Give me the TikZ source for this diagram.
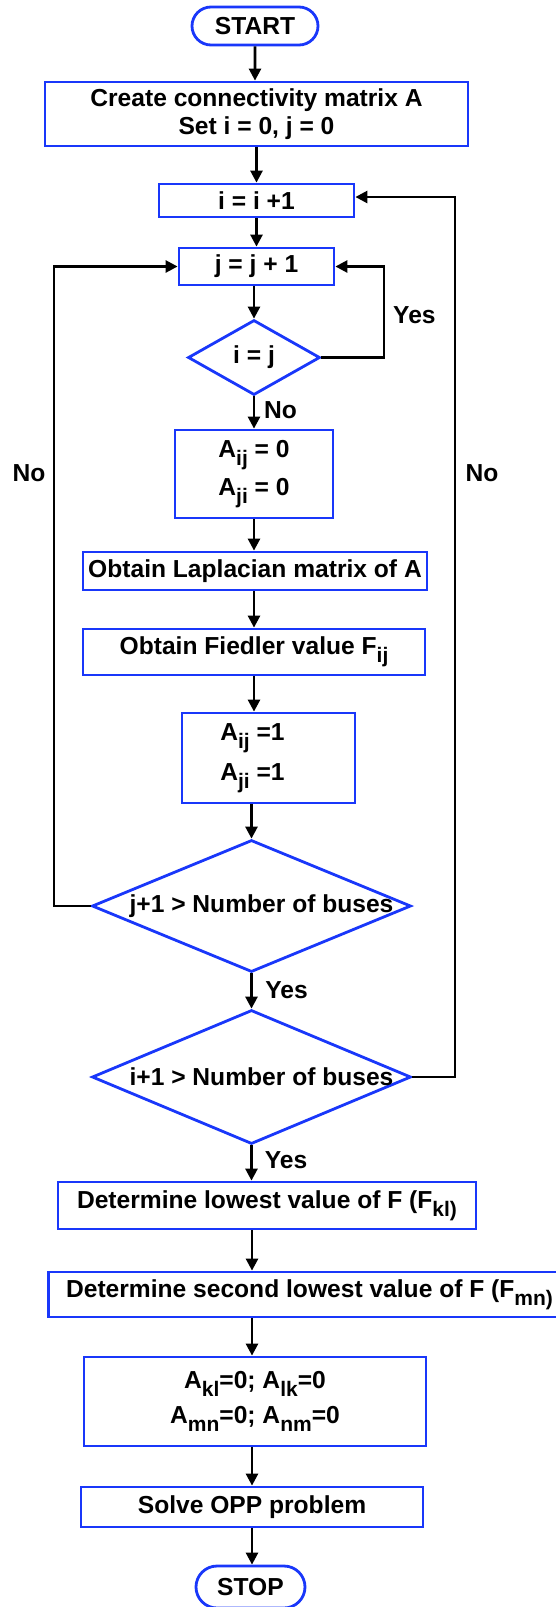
\documentclass[tikz,border=0pt]{standalone}
\usepackage{fontspec}
\setmainfont{Liberation Sans}
\usetikzlibrary{positioning,shapes.geometric,shapes.misc,arrows.meta}
\definecolor{boxblue}{RGB}{25,55,250}
\newcommand{\sbs}[1]{\raisebox{-8pt}{\fontsize{21}{21}\selectfont #1}}

\begin{document}
\begin{tikzpicture}[x=1pt,y=-1pt,
  every node/.style={font=\fontsize{24.6}{28}\selectfont\bfseries},
  process/.style={draw=boxblue,line width=2.8pt,rectangle,inner sep=0pt,align=center},
  terminal/.style={draw=boxblue,line width=2.8pt,rounded rectangle,inner sep=0pt},
  decision/.style={draw=boxblue,line width=2.8pt,diamond,inner sep=0pt},
  arr/.style={line width=2.6pt,-{Triangle[length=12pt,width=12pt]}},
  lbl/.style={inner sep=0pt}]
      \useasboundingbox (0,0) rectangle (555,1607);
      % main column
      \node[terminal,minimum width=126pt,minimum height=38pt](start) at (255,26){START};
      \node[process,minimum width=423pt,minimum height=64pt](create) at (256.5,114){Create connectivity matrix A\\Set i = 0, j = 0};
      \node[process,minimum width=195pt,minimum height=33pt](inci) at (256.5,200.5){i = i +1};
      \node[process,minimum width=155pt,minimum height=37pt](incj) at (256.5,266.5){j = j + 1};
      \node[decision,minimum width=132pt,minimum height=75pt](same) at (254,357.5){i = j};
      \node[process,minimum width=158pt,minimum height=88pt](zero) at (254,474){A\sbs{ij} = 0\\[8pt]A\sbs{ji} = 0};
      \node[process,minimum width=344pt,minimum height=38pt](lap) at (255,571){Obtain Laplacian matrix of A};
      \node[process,minimum width=342pt,minimum height=46pt](fied) at (254,652){Obtain Fiedler value F\sbs{ij}};
      \node[process,minimum width=173pt,minimum height=90pt,
        label={[xshift=-16pt,align=center]center:A\sbs{ij} =1\\[10pt]A\sbs{ji} =1}](one) at (268.5,758){};
      \node[decision,minimum width=319pt,minimum height=132pt,
        label={[xshift=10pt]center:j+1 > Number of buses}](lastj) at (251.5,906){};
      \node[decision,minimum width=319pt,minimum height=134pt,
        label={[xshift=10pt]center:i+1 > Number of buses}](lasti) at (251.5,1077){};
      \node[process,minimum width=418pt,minimum height=47pt](low) at (267,1205.5){Determine lowest value of F (F\sbs{kl)}};
      \node[process,minimum width=522pt,minimum height=45pt](second) at (309.5,1294.5){Determine second lowest value of F (F\sbs{mn)}};
      \node[process,minimum width=342pt,minimum height=89pt](cut) at (255,1401.5){A\sbs{kl}=0; A\sbs{lk}=0\\[7pt]A\sbs{mn}=0; A\sbs{nm}=0};
      \node[process,minimum width=342pt,minimum height=40pt](opp) at (252,1507){Solve OPP problem};
      \node[terminal,minimum width=109pt,minimum height=42pt](stop) at (250.5,1587){STOP};

      % loop corners
      \coordinate (yesx) at (384,310);
      \coordinate (leftx) at (54,600);
      \coordinate (rightx) at (455,600);

      \draw[arr] (start) -- (start |- create.north);
      \draw[arr] (create) -- (inci);
      \draw[arr] (inci) -- (incj);
      \draw[arr] (same |- incj.south) -- (same);
      \draw[arr] (same) -- (zero);
      \draw[arr] (zero) -- (zero |- lap.north);
      \draw[arr] (fied |- lap.south) -- (fied);
      \draw[arr] (fied) -- (fied |- one.north);
      \draw[arr] (lastj |- one.south) -- (lastj);
      \draw[arr] (lastj) -- (lasti);
      \draw[arr] (lasti) -- (lasti |- low.north);
      \draw[arr] (opp |- low.south) -- (opp |- second.north);
      \draw[arr] (opp |- second.south) -- (opp |- cut.north);
      \draw[arr] (opp |- cut.south) -- (opp);
      \draw[arr] (opp) -- (opp |- stop.north);
      \draw[arr] (same.east) -| (yesx) |- (incj.east);
      \draw[arr] (lastj.west) -| (leftx) |- (incj.west);
      \draw[arr] (lasti.east) -| (rightx) |- ([yshift=3.5pt]inci.east);

      % branch labels
      \node[lbl,anchor=west](yes1) at (393,315){Yes};
      \node[lbl](no1) at (280.5,410){No};
      \node[lbl](noleft) at (29,473){No};
      \node[lbl](noright) at (482,473){No};
      \node[lbl](yes2) at (286.5,990){Yes};
      \node[lbl](yes3) at (286,1160){Yes};
\end{tikzpicture}
\end{document}
